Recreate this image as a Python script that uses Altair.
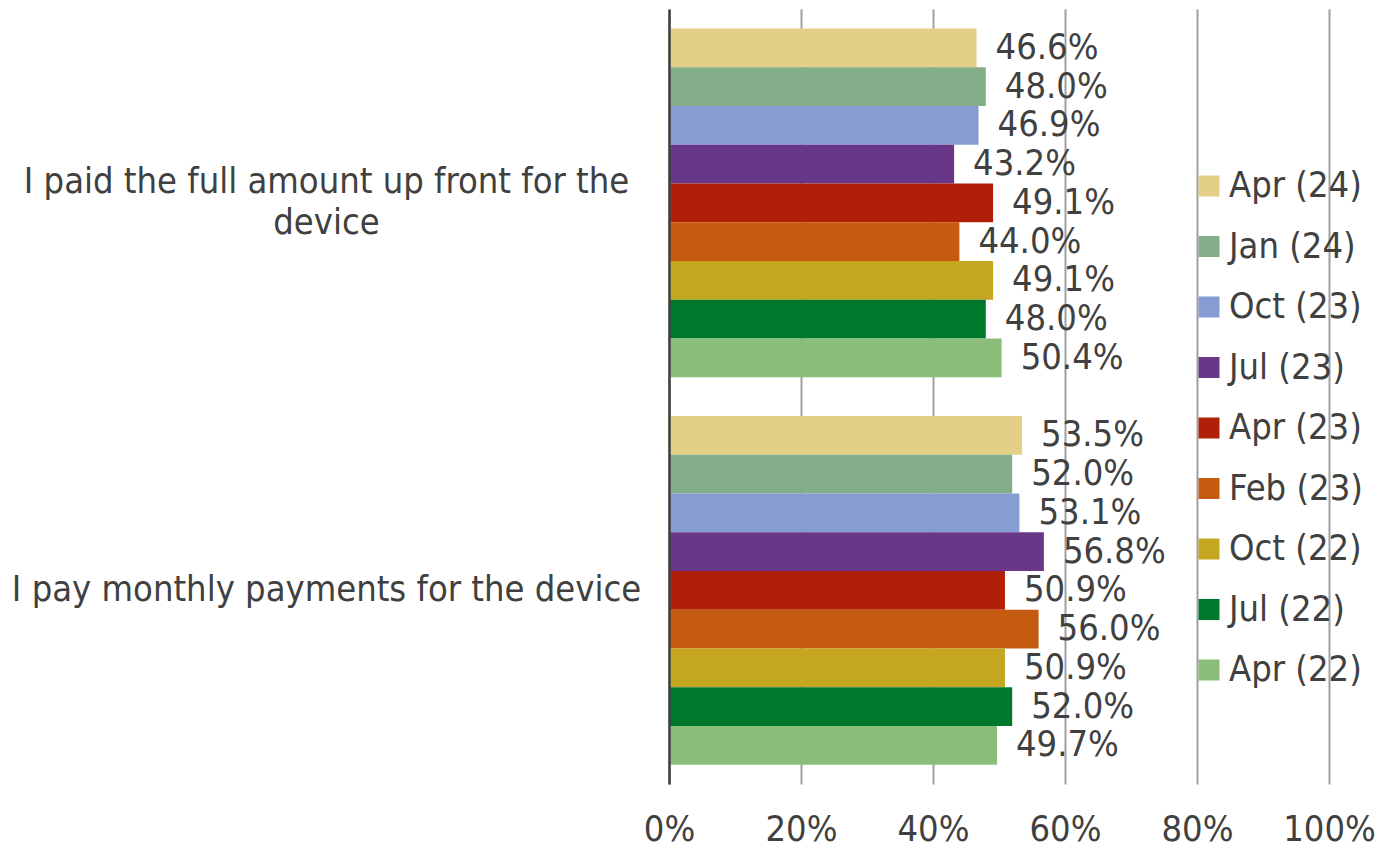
import altair as alt
import pandas as pd

categories = [
    "I paid the full amount up front for the device",
    "I pay monthly payments for the device",
]
series = ["Apr (24)", "Jan (24)", "Oct (23)", "Jul (23)", "Apr (23)",
          "Feb (23)", "Oct (22)", "Jul (22)", "Apr (22)"]
colors = ["#E3CF87", "#84AD89", "#869CD3", "#683788", "#B02008",
          "#C55A11", "#C4A621", "#00782B", "#8BBE79"]
full_upfront = [46.6, 48.0, 46.9, 43.2, 49.1, 44.0, 49.1, 48.0, 50.4]
monthly = [53.5, 52.0, 53.1, 56.8, 50.9, 56.0, 50.9, 52.0, 49.7]
x_ticks = [0, 0.2, 0.4, 0.6, 0.8, 1.0]

rows = []
for cat, vals in zip(categories, [full_upfront, monthly]):
    for s, v in zip(series, vals):
        rows.append({"category": cat, "series": s, "value": v / 100})
df = pd.DataFrame(rows)

FONT = "DejaVu Sans Condensed"
TEXT = "#404040"

two_line_test = "datum.value == 'I paid the full amount up front for the device'"
label_expr = (two_line_test.replace("datum.value", "datum.label") + " ? "
              "['I paid the full amount up front for the', 'device'] : datum.label")

y = alt.Y(
    "category:N", sort=categories,
    scale=alt.Scale(paddingInner=0.1, paddingOuter=0.05),
    axis=alt.Axis(title=None, ticks=False, domain=True, domainColor="#404040",
                  domainWidth=2.5, labelAlign="center", labelBaseline="middle",
                  labelPadding=343, labelFont=FONT, labelFontSize=36,
                  labelColor=TEXT, labelLineHeight=41, labelLimit=900,
                  labelExpr=label_expr,
                  labelOffset={"condition": {"test": two_line_test, "value": -20.5},
                               "value": 0},
                  zindex=1),
)
x = alt.X(
    "value:Q",
    scale=alt.Scale(domain=[0, 1], nice=False),
    axis=alt.Axis(title=None, values=x_ticks, format=".0%", grid=True,
                  gridColor="#A0A0A0", gridWidth=2, domain=False, ticks=False,
                  labelFont=FONT, labelFontSize=36, labelColor=TEXT,
                  labelPadding=28, labelFlush=False),
)
yoff = alt.YOffset("series:N", sort=series,
                   scale=alt.Scale(paddingInner=0, paddingOuter=0))

bars = alt.Chart(df).mark_bar().encode(
    x=x, y=y, yOffset=yoff,
    color=alt.Color(
        "series:N", sort=series,
        scale=alt.Scale(domain=series, range=colors),
        legend=alt.Legend(title=None, orient="none", legendX=522, legendY=159,
                          symbolType="square", symbolSize=441,
                          symbolStrokeWidth=0, labelFont=FONT,
                          labelFontSize=36, labelColor=TEXT, rowPadding=24.5,
                          labelOffset=2, padding=0),
    ),
)

labels = alt.Chart(df).mark_text(
    align="left", baseline="middle", dx=19, font=FONT, fontSize=36, color=TEXT
).encode(
    x=x, y=y, yOffset=yoff,
    text=alt.Text("value:Q", format=".1%"),
)

chart = alt.layer(bars, labels).properties(
    width=660, height=775,
    autosize=alt.AutoSizeParams(type="none"),
    padding={"left": 661, "top": 1, "right": 50, "bottom": 60},
).configure_view(strokeWidth=0)

chart.save("out.html", embed_options={"renderer": "svg", "actions": False})
